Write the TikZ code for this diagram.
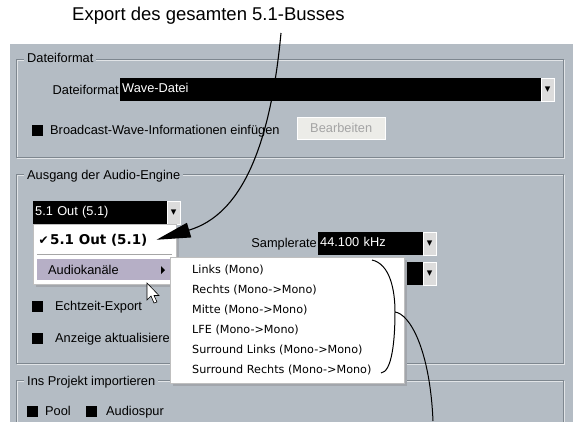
\documentclass[tikz,border=0pt]{standalone}
\usepackage{fontspec}
\setmainfont{Liberation Sans}
\newfontfamily\menufont{DejaVu Sans}
\usepackage{tikz}
\usetikzlibrary{arrows.meta}
\definecolor{PanelGray}{HTML}{B4BCC4}
\definecolor{FrameDark}{HTML}{7E878F}
\definecolor{BtnFace}{HTML}{DCDCDC}
\definecolor{MenuHi}{HTML}{B6AFC6}
\definecolor{ShadowGray}{HTML}{7A8088}
\definecolor{GhostText}{HTML}{A4A4A4}
\definecolor{GhostFill}{HTML}{ECECE8}

\begin{document}
\begin{tikzpicture}[x=1pt, y=-1pt,
    every node/.style={font=\fontsize{12.8}{14}\selectfont},
    lbl/.style={anchor=base west, inner sep=0pt},
    rlbl/.style={anchor=base east, inner sep=0pt},
    legend/.style={anchor=base west, inner xsep=3pt, inner ysep=1pt, fill=PanelGray},
    field/.style={fill=black, text=white, anchor=north west, inner xsep=2pt,
                  inner ysep=0pt, minimum height=23pt, text height=9pt,
                  text depth=2.5pt, align=left},
    dropbtn/.style={fill=BtnFace, draw=white, anchor=north west, minimum width=13pt,
                    minimum height=23pt, inner sep=0pt,
                    font=\menufont\fontsize{11}{11}\selectfont},
    chk/.style={fill=black, anchor=north west, minimum size=11pt, inner sep=0pt},
    frame/.style={draw=FrameDark, line width=1pt},
    etch/.style={draw=white!60!PanelGray, line width=0.8pt},
    popup/.style={fill=white, draw=gray!50, anchor=north west, inner sep=0pt},
    shadow/.style={fill=ShadowGray!70},
    item/.style={anchor=base west, inner sep=0pt,
                 font=\menufont\fontsize{11.2}{12}\selectfont},
    callout/.style={line width=1.1pt, -{Triangle[length=34pt, width=15pt]}},
    lead/.style={line width=1pt},
]

%% Page and panel
\useasboundingbox (0,0) rectangle (573,421);
\fill[PanelGray] (10,44) rectangle (580,430);

%% Title
\node[font=\fontsize{18.5}{20}\selectfont, inner sep=0pt] (title) at (208.5,16) {Export des gesamten 5.1-Busses};
\coordinate (callout) at (281,33);

%% Dateiformat group
\draw[etch]  (17,60) rectangle (564,158);
\draw[frame] (16,59) rectangle (563,157);
\node[legend] (fmtlegend) at (24,62.5) {Dateiformat};
\node[rlbl]   (fmtlabel)  at (119,94.5) {Dateiformat};
\node[field, text width=417pt] (fmtfield) at (120,78) {Wave-Datei};
\node[dropbtn] (fmtbtn) at (541,78) {▾};
\node[chk] (bwfchk)   at (32,124.5) {};
\node[lbl] (bwflabel) at (50,134.5) {Broadcast-Wave-Informationen einfügen};
\node[fill=GhostFill, draw=white, text=GhostText, anchor=north west,
      minimum width=88pt, minimum height=22pt, inner sep=0pt] (editbtn) at (297,117) {Bearbeiten};

%% Audio-Engine group
\draw[etch]  (17,175) rectangle (564,364);
\draw[frame] (16,174) rectangle (563,363);
\node[legend] (englegend) at (24,179.5) {Ausgang der Audio-Engine};
\node[field, text width=130pt] (outfield) at (33,201) {5.1 Out (5.1)};
\node[dropbtn] (outbtn) at (167,201) {▾};
\node[rlbl] (ratelabel) at (317,247.5) {Samplerate};
\node[field, text width=101pt] (ratefield) at (318,232) {44.100 kHz};
\node[dropbtn] (ratebtn) at (423,232) {▾};
\node[field, text width=101pt] (depthfield) at (318,262) {};
\node[dropbtn] (depthbtn) at (423,262) {▾};
\node[chk] (rtchk)    at (32,300.5) {};
\node[lbl] (rtlabel)  at (55,310.5) {Echtzeit-Export};
\node[chk] (monchk)   at (32,332.5) {};
\node[lbl] (monlabel) at (55,342.5) {Anzeige aktualisieren};

%% Import group
\draw[etch]  (17,430) |- (564,381) -- (564,430);
\draw[frame] (16,430) |- (563,380) -- (563,430);
\node[legend] (implegend) at (24,385.5) {Ins Projekt importieren};
\node[chk] (poolchk)    at (27,405.5) {};
\node[lbl] (poollabel)  at (45,415.5) {Pool};
\node[chk] (trackchk)   at (86,405.5) {};
\node[lbl] (tracklabel) at (106,415.5) {Audiospur};

%% Output menu
\fill[shadow] (36,227) rectangle (179,287);
\node[popup, minimum width=143pt, minimum height=60pt] (outmenu) at (33,224) {};
\node[anchor=base west, inner sep=0pt,
      font=\menufont\bfseries\fontsize{13.5}{15}\selectfont] (outsel) at (50,244) {5.1 Out (5.1)};
\node[anchor=base east, inner sep=0pt, font=\menufont\fontsize{12}{12}\selectfont]
      (outtick) at ([xshift=-1pt]outsel.base west) {✔};
\draw[gray!70] (37,254) -- (172,254);
\node[fill=MenuHi, anchor=north west, minimum width=133pt, minimum height=21pt,
      inner sep=0pt] (chanhi) at (37,259) {};
\node[lbl] (chanlabel) at (48,274.5) {Audiokanäle};
\fill (161,266) -- (165,270) -- (161,274) -- cycle;

%% Channel submenu
\fill[shadow] (173,260) rectangle (407,386);
\node[popup, minimum width=234pt, minimum height=126pt] (chanmenu) at (170,257) {};
\node[item] (chleft)   at (192,273) {Links (Mono)};
\node[item] (chright)  at (192,293) {Rechts (Mono->Mono)};
\node[item] (chcenter) at (192,313) {Mitte (Mono->Mono)};
\node[item] (chlfe)    at (192,333) {LFE (Mono->Mono)};
\node[item] (chsl)     at (192,353) {Surround Links (Mono->Mono)};
\node[item] (chsr)     at (192,373) {Surround Rechts (Mono->Mono)};

%% Mouse pointer
\filldraw[fill=white, draw=black, line width=0.6pt]
    (147,283) -- (147,300) -- (151,296) -- (154,303) -- (157,302)
    -- (154,295.5) -- (159,295.5) -- cycle;

%% Brace round the channels
\coordinate (bracetop)  at (372,260);
\coordinate (bracemid)  at (395,312);
\coordinate (bracebot)  at (381,373);
\coordinate (bracefoot) at (433,421);
\draw[lead] (bracetop) .. controls (390,264) and (395,290) .. (bracemid)
            .. controls (395,340) and (392,372) .. (bracebot);
\draw[lead] (bracemid) .. controls (410,314) and (430,350) .. (bracefoot);

%% Callout arrow
\draw[callout] (callout) .. controls (270,150) and (240,215) .. ([xshift=9pt]outsel.east);

\end{tikzpicture}
\end{document}
